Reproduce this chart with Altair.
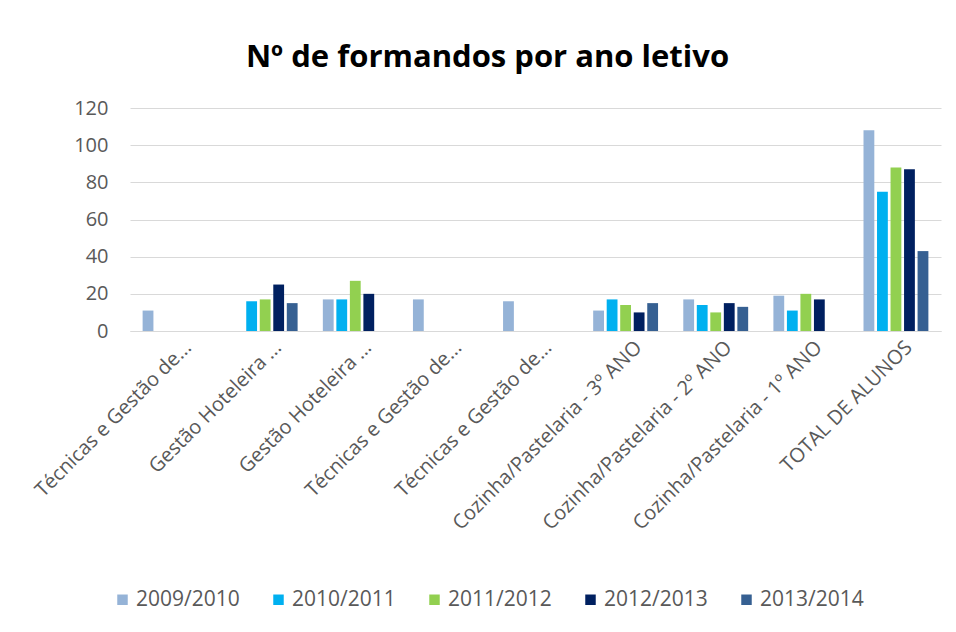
import altair as alt
import pandas as pd

categories = [
    "Técnicas e Gestão de...",
    "Gestão Hoteleira ...",
    "Gestão Hoteleira ...",
    "Técnicas e Gestão de...",
    "Técnicas e Gestão de...",
    "Cozinha/Pastelaria - 3º ANO",
    "Cozinha/Pastelaria - 2º ANO",
    "Cozinha/Pastelaria - 1º ANO",
    "TOTAL DE ALUNOS",
]
years = ["2009/2010", "2010/2011", "2011/2012", "2012/2013", "2013/2014"]
colors = ["#95B3D7", "#00B0F0", "#92D050", "#002060", "#366092"]

v_2009_2010 = [11, None, 17, 17, 16, 11, 17, 19, 108]
v_2010_2011 = [None, 16, 17, None, None, 17, 14, 11, 75]
v_2011_2012 = [None, 17, 27, None, None, 14, 10, 20, 88]
v_2012_2013 = [None, 25, 20, None, None, 10, 15, 17, 87]
v_2013_2014 = [None, 15, None, None, None, 15, 13, None, 43]
series = [v_2009_2010, v_2010_2011, v_2011_2012, v_2012_2013, v_2013_2014]

rows = []
for y, vals in zip(years, series):
    for i, v in enumerate(vals):
        if v is not None:
            rows.append({"cat": i, "ano": y, "valor": v})
df = pd.DataFrame(rows)

label_array = "[" + ",".join("'" + c + "'" for c in categories) + "]"

FONT = "Open Sans"
GRAY = "#595959"

chart = alt.Chart(df).mark_bar().encode(
    x=alt.X(
        "cat:O",
        scale=alt.Scale(domain=list(range(len(categories))), paddingInner=0.25, paddingOuter=0.125),
        axis=alt.Axis(
            title=None,
            labelExpr=label_array + "[datum.value]",
            labelAngle=-45,
            labelAlign="right",
            labelBaseline="top",
            labelFont=FONT,
            labelFontSize=20,
            labelColor=GRAY,
            labelPadding=6,
            labelOffset=6,
            labelLimit=400,
            ticks=False,
            domainColor="#d9d9d9",
            domainWidth=1,
            grid=False,
        ),
    ),
    xOffset=alt.XOffset(
        "ano:N",
        scale=alt.Scale(domain=years, paddingInner=0.2, paddingOuter=0.1),
    ),
    y=alt.Y(
        "valor:Q",
        scale=alt.Scale(domain=[0, 120], nice=False),
        axis=alt.Axis(
            title=None,
            values=[0, 20, 40, 60, 80, 100, 120],
            labelFont=FONT,
            labelFontSize=20,
            labelColor=GRAY,
            labelPadding=22,
            ticks=False,
            domain=False,
            gridColor="#d9d9d9",
            gridWidth=1,
        ),
    ),
    color=alt.Color(
        "ano:N",
        scale=alt.Scale(domain=years, range=colors),
        legend=alt.Legend(
            title=None,
            orient="none",
            direction="horizontal",
            legendX=-18,
            legendY=481,
            symbolType="square",
            symbolSize=110,
            symbolStrokeWidth=0,
            labelFont=FONT,
            labelFontSize=21,
            labelColor=GRAY,
            labelOffset=3,
            columnPadding=28,
            padding=0,
        ),
    ),
).properties(
    width=811,
    height=223,
    title=alt.TitleParams(
        "Nº de formandos por ano letivo",
        font=FONT,
        fontSize=31,
        fontWeight="bold",
        color="black",
        anchor="middle",
        frame="group",
        dx=-48,
        offset=24,
    ),
    autosize=alt.AutoSizeParams(type="none"),
    padding={"left": 122, "top": 100, "right": 5, "bottom": 290},
).configure(background="white", view=alt.ViewConfig(stroke=None))

chart.save("out.html", embed_options={"renderer": "svg", "actions": False})
